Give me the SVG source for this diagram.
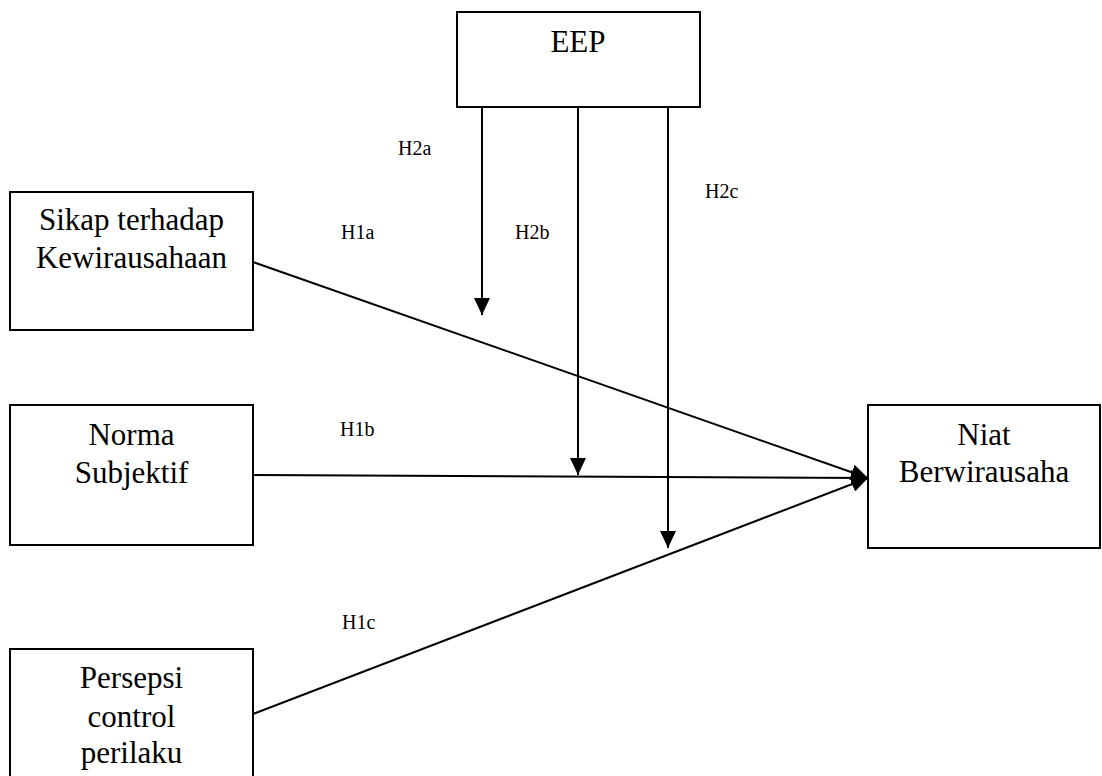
<svg xmlns="http://www.w3.org/2000/svg" width="1102" height="776" viewBox="0 0 1102 776">
<style>
.box{fill:#fff;stroke:#000;stroke-width:2}
.t{font-family:"Liberation Serif","Times New Roman",serif;font-size:31px;fill:#000;text-anchor:middle}
.l{font-family:"Liberation Serif","Times New Roman",serif;font-size:20px;fill:#000}
.c{stroke:#000;stroke-width:2;fill:none}
</style>
<defs>
<marker id="ah" viewBox="0 0 17 16" refX="17" refY="8" markerWidth="17" markerHeight="16" markerUnits="userSpaceOnUse" orient="auto">
<path d="M0,0 L17,8 L0,16 Z" fill="#000"/>
</marker>
</defs>
<g id="connectors">
<line class="c" x1="253" y1="262" x2="868" y2="478" marker-end="url(#ah)"/>
<line class="c" x1="253" y1="475" x2="868" y2="478" marker-end="url(#ah)"/>
<line class="c" x1="253" y1="714" x2="868" y2="478" marker-end="url(#ah)"/>
<line class="c" x1="482" y1="107" x2="482" y2="315" marker-end="url(#ah)"/>
<line class="c" x1="578" y1="107" x2="578" y2="475" marker-end="url(#ah)"/>
<line class="c" x1="668" y1="107" x2="668" y2="548" marker-end="url(#ah)"/>
</g>
<g id="labels">
<text class="l" x="398" y="155">H2a</text>
<text class="l" x="341" y="239">H1a</text>
<text class="l" x="515" y="239">H2b</text>
<text class="l" x="705" y="198">H2c</text>
<text class="l" x="340" y="436">H1b</text>
<text class="l" x="342" y="629">H1c</text>
</g>
<g id="eep">
<rect class="box" x="457" y="12" width="243" height="95"/>
<text class="t" x="578" y="52">EEP</text>
</g>
<g id="sikap">
<rect class="box" x="10" y="192" width="243" height="138"/>
<text class="t" x="131.5" y="230">Sikap terhadap</text>
<text class="t" x="131.5" y="268">Kewirausahaan</text>
</g>
<g id="norma">
<rect class="box" x="10" y="405" width="243" height="140"/>
<text class="t" x="131.5" y="445">Norma</text>
<text class="t" x="131.5" y="483">Subjektif</text>
</g>
<g id="persepsi">
<rect class="box" x="10" y="649" width="243" height="140"/>
<text class="t" x="131.5" y="688">Persepsi</text>
<text class="t" x="131.5" y="727">control</text>
<text class="t" x="131.5" y="763">perilaku</text>
</g>
<g id="niat">
<rect class="box" x="868" y="405" width="232" height="143"/>
<text class="t" x="984" y="445">Niat</text>
<text class="t" x="984" y="482">Berwirausaha</text>
</g>
</svg>
